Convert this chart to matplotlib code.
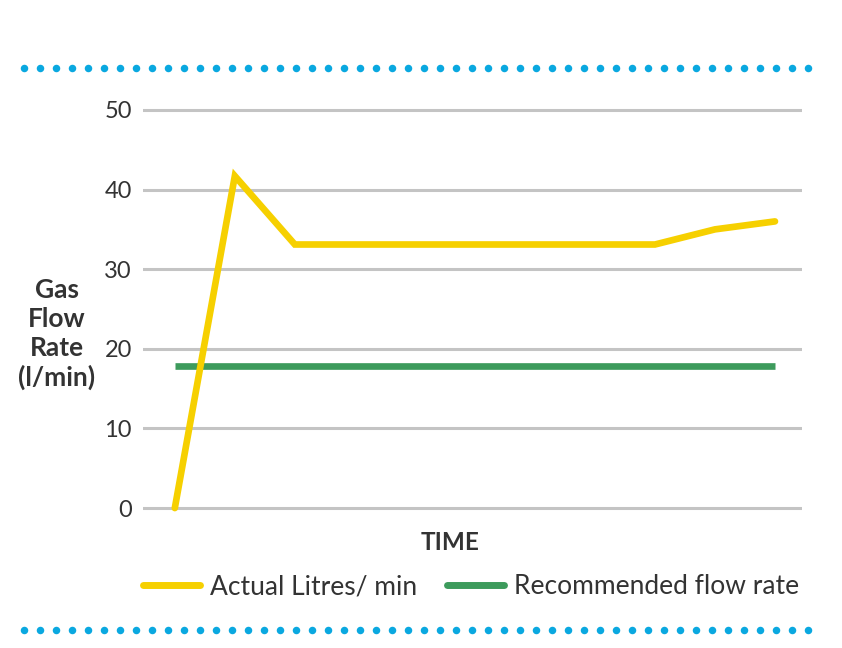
import matplotlib.pyplot as plt
from matplotlib.lines import Line2D
import numpy as np

# -------------------------------------------------
# Data
# -------------------------------------------------
time_idx = [0, 1, 2, 8, 9, 10]
actual_flow = [0, 41.7, 33.1, 33.1, 35.0, 36.0]

recommended_time = [0, 10]
recommended_flow = [17.8, 17.8]

y_ticks = [0, 10, 20, 30, 40, 50]

# -------------------------------------------------
# Style
# -------------------------------------------------
plt.rcParams["font.family"] = ["Lato", "DejaVu Sans"]
text_color = "#333333"
yellow = "#f6d000"
green = "#3d9b5c"
grid_gray = "#c4c4c4"
dot_blue = "#0aa8e0"

W, H = 842, 648
fig = plt.figure(figsize=(W / 100, H / 100), dpi=100)

# axes placed in pixel space
left_px, right_px = 143, 802
top_px, bottom_px = 94, 524
ax = fig.add_axes([left_px / W, 1 - bottom_px / H,
                   (right_px - left_px) / W, (bottom_px - top_px) / H])

ax.plot(time_idx, actual_flow, color=yellow, linewidth=4.8,
        solid_capstyle="round", solid_joinstyle="miter", zorder=3,
        label="Actual Litres/ min")
ax.plot(recommended_time, recommended_flow, color=green, linewidth=4.8,
        solid_capstyle="butt", zorder=2, label="Recommended flow rate")

ax.set_xlim(-0.53, 10.45)
ax.set_ylim(-2, 52)
ax.set_yticks(y_ticks)
ax.set_yticklabels([str(t) for t in y_ticks])
ax.set_xticks([])

for t in y_ticks:
    ax.axhline(t, color=grid_gray, linewidth=2.2, zorder=1)

for spine in ax.spines.values():
    spine.set_visible(False)

ax.tick_params(axis="y", length=0, pad=8, labelsize=17, labelcolor=text_color)

# -------------------------------------------------
# Labels
# -------------------------------------------------
fig.text(57 / W, 1 - 334 / H, "Gas\nFlow\nRate\n(l/min)", ha="center",
         va="center", fontsize=19, fontweight="bold", color=text_color,
         linespacing=1.25)

fig.text(450 / W, 1 - 543 / H, "TIME", ha="center", va="center",
         fontsize=17.5, fontweight="bold", color=text_color)

leg = fig.legend(loc="center", bbox_to_anchor=(471 / W, 1 - 587 / H), ncol=2,
                 frameon=False, fontsize=19, handlelength=2.16,
                 handletextpad=0.4, columnspacing=1.1)
for txt in leg.get_texts():
    txt.set_color(text_color)
for line in leg.get_lines():
    line.set_solid_capstyle("round")
    line.set_linewidth(5)

# -------------------------------------------------
# Dotted separators (decoration, 16 px spacing)
# -------------------------------------------------
dot_x = np.arange(24, 812, 16) / W
for y_px in (68, 630):
    fig.add_artist(Line2D(dot_x, np.full(dot_x.size, 1 - y_px / H),
                          transform=fig.transFigure, color=dot_blue,
                          linestyle="none", marker="o", markersize=5.4,
                          markeredgewidth=0))

fig.savefig("out.png", dpi=100)
